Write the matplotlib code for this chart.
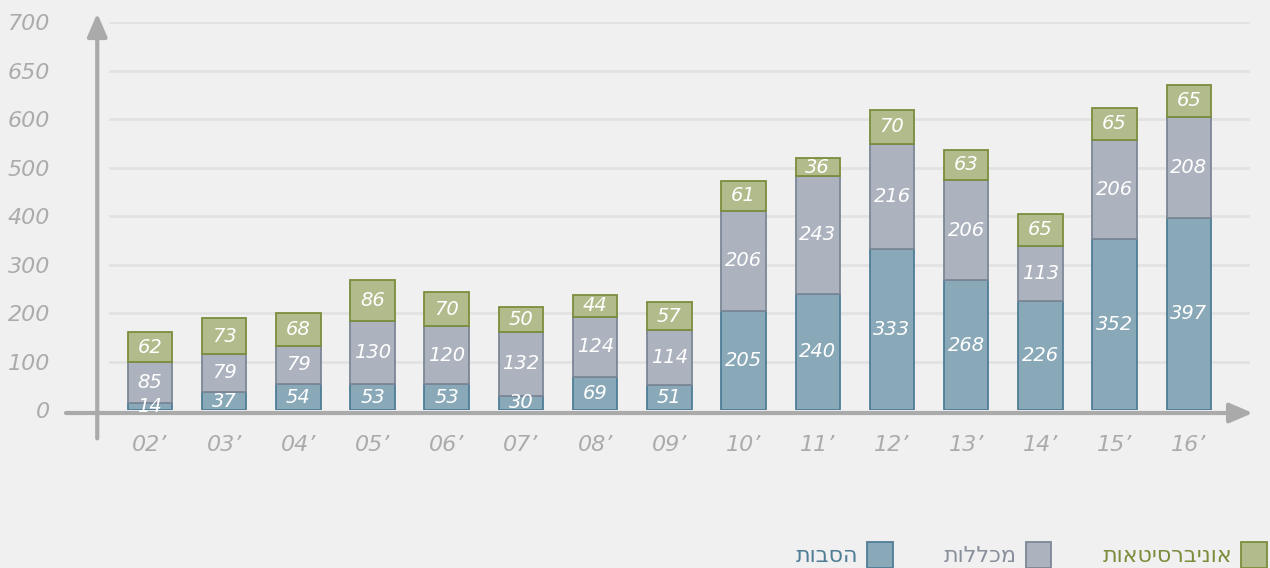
import matplotlib
import matplotlib.pyplot as plt
import numpy as np
from matplotlib.patches import Patch

matplotlib.use('Agg')

years = ["02’", "03’", "04’", "05’", "06’", "07’", "08’", "09’",
         "10’", "11’", "12’", "13’", "14’", "15’", "16’"]
retraining = [14, 37, 54, 53, 53, 30, 69, 51, 205, 240, 333, 268, 226, 352, 397]
colleges = [85, 79, 79, 130, 120, 132, 124, 114, 206, 243, 216, 206, 113, 206, 208]
universities = [62, 73, 68, 86, 70, 50, 44, 57, 61, 36, 70, 63, 65, 65, 65]

y_ticks = [0, 100, 200, 300, 400, 500, 600, 700, 800]
y_tick_labels = ['0', '100', '200', '300', '400', '500', '600', '650', '700']

legend_names = ['הסבות', 'מכללות', 'אוניברסיטאות']

BG = '#f0f0f0'
series = [
    (retraining, '#8aa9b8', '#4f7d96', '#4f7d96'),
    (colleges, '#adb3be', '#7c8797', '#8a909b'),
    (universities, '#b2bb8b', '#7b8d3c', '#7b8d3c'),
]

fig = plt.figure(figsize=(12.7, 5.68), dpi=100, facecolor=BG)
ax = fig.add_axes([0.059, 0.278, 0.925, 0.683], facecolor=BG)

x = np.arange(len(years))
bottom = np.zeros(len(years))
for vals, fc, ec, _ in series:
    vals = np.array(vals)
    ax.bar(x, vals, width=0.6, bottom=bottom, color=fc, edgecolor=ec,
           linewidth=1.3, zorder=3)
    for xi, b, v in zip(x, bottom, vals):
        ax.text(xi, b + v / 2, str(v), ha='center', va='center',
                color='white', fontsize=14, style='italic', zorder=4)
    bottom += vals

ax.set_xlim(-1.01, 14.82)
ax.set_ylim(0, 800)
ax.set_yticks(y_ticks)
ax.set_yticklabels(y_tick_labels)
ax.set_xticks(x)
ax.set_xticklabels(years)
ax.tick_params(length=0, labelcolor='#ababab', labelsize=16)
ax.tick_params(axis='y', pad=18)
ax.tick_params(axis='x', pad=18)
for lab in ax.get_xticklabels() + ax.get_yticklabels():
    lab.set_style('italic')

for t in y_ticks[1:]:
    ax.plot([0.03, 1.0], [t, t], transform=ax.get_yaxis_transform(),
            color='#e2e2e2', lw=2, zorder=1)
for s in ax.spines.values():
    s.set_visible(False)

# hand-drawn style axes with arrows
axis_col = '#aaaaaa'
ax.annotate('', xy=(1.005, -6), xytext=(-0.01, -6),
            xycoords=('axes fraction', 'data'),
            arrowprops=dict(arrowstyle='-|>,head_length=1.4,head_width=0.6',
                            color=axis_col, lw=3), annotation_clip=False)
ax.annotate('', xy=(0.019, 1.03), xytext=(0.019, -0.08),
            xycoords='axes fraction',
            arrowprops=dict(arrowstyle='-|>,head_length=1.4,head_width=0.6',
                            color=axis_col, lw=3), annotation_clip=False)

handles = [Patch(facecolor=fc, edgecolor=ec, lw=1.3) for _, fc, ec, _ in series]
labels = [n[::-1] for n in legend_names]
leg = fig.legend(handles, labels, ncol=3, markerfirst=False, frameon=False,
                 loc='lower right', bbox_to_anchor=(1.013, -0.035),
                 handlelength=1.15, handleheight=1.4,
                 columnspacing=2.3, handletextpad=0.4,
                 prop={'family': 'DejaVu Sans', 'size': 16})
for txt, (_, _, _, tc) in zip(leg.get_texts(), series):
    txt.set_color(tc)

fig.savefig('out.png', dpi=100, facecolor=BG)
